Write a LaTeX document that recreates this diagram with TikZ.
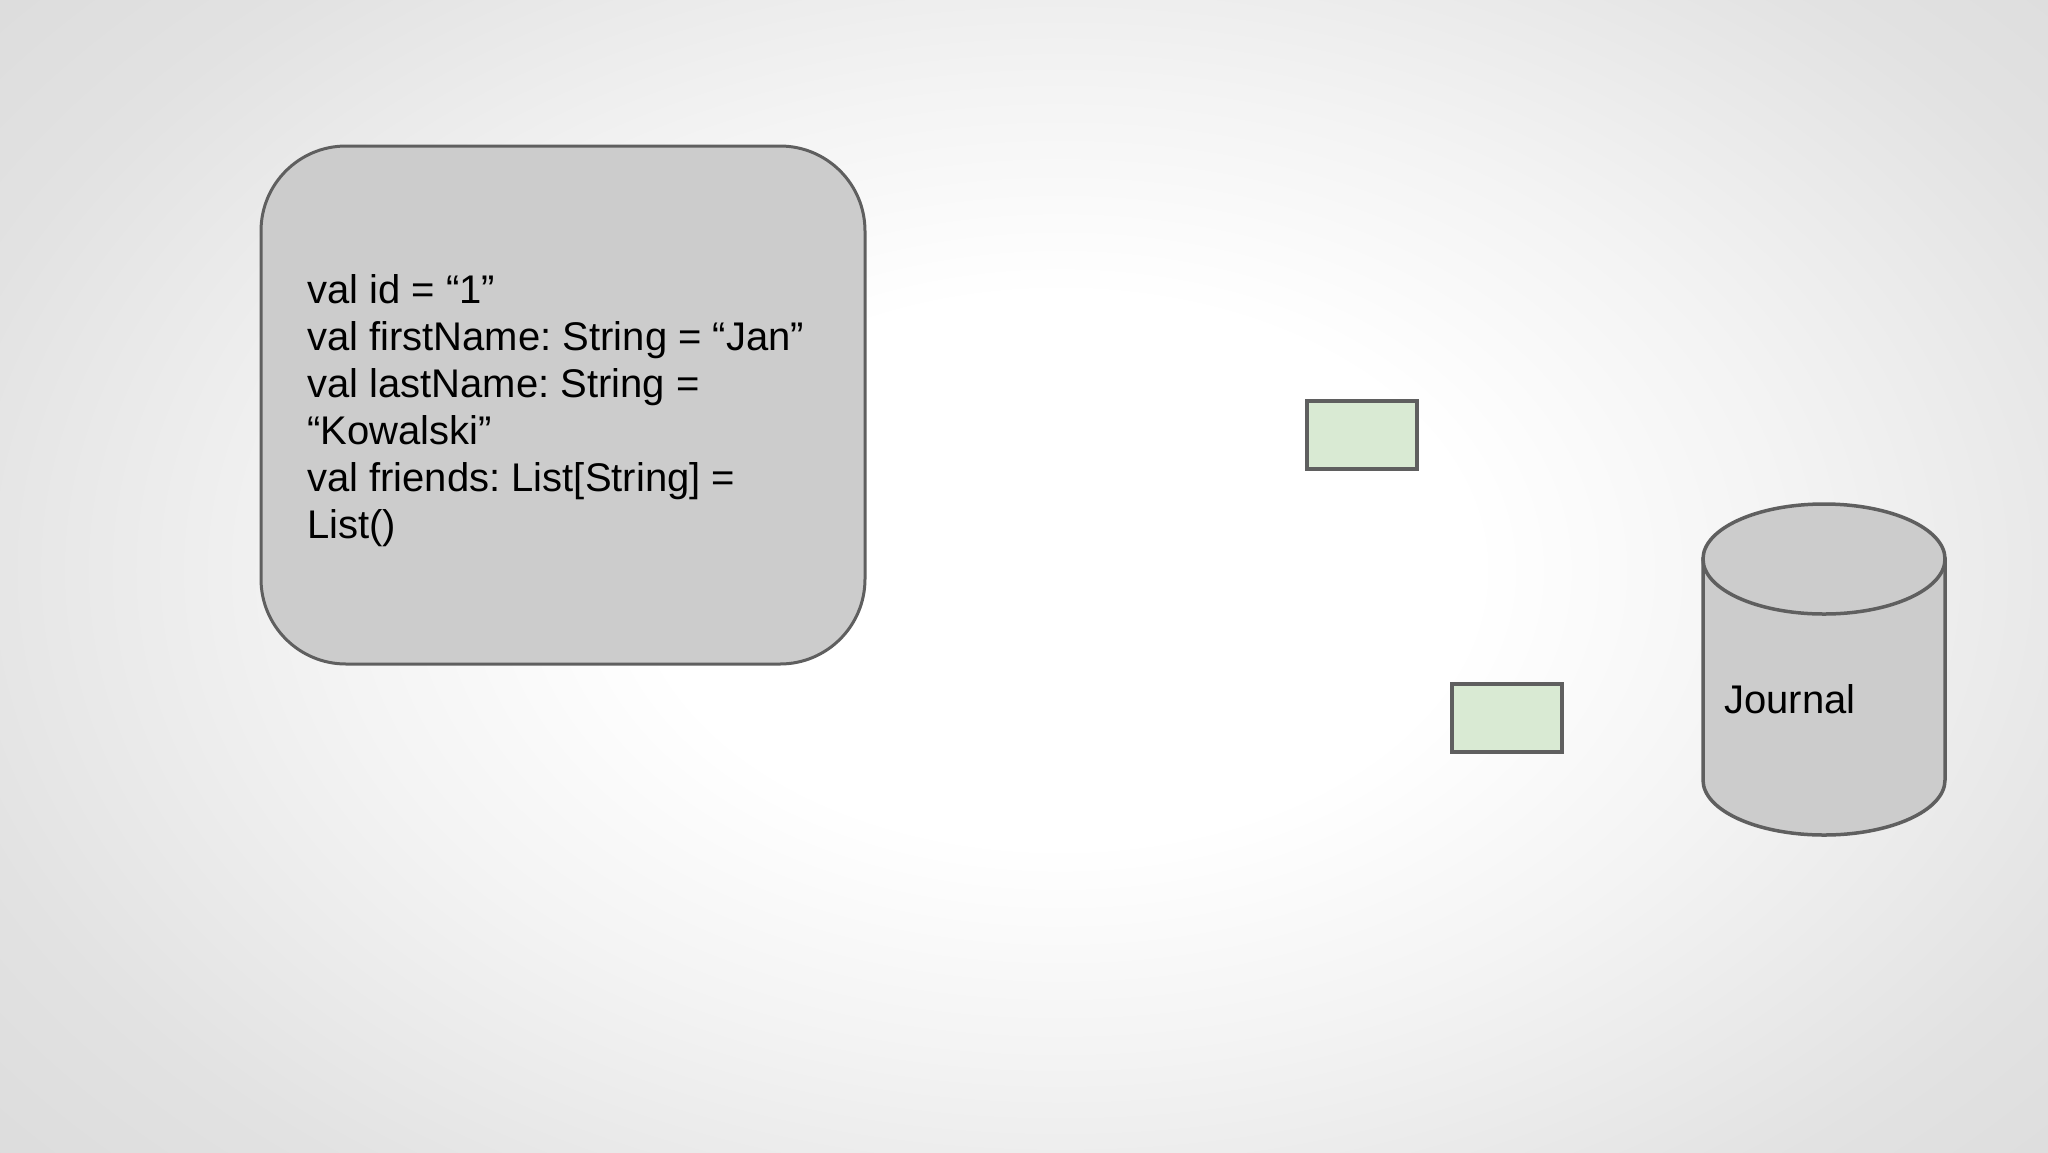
\documentclass[tikz,border=0pt]{standalone}
\usepackage{fontspec}
\setmainfont{Liberation Sans}
\frenchspacing
\definecolor{edge}{HTML}{5F5F5F}
\definecolor{boxfill}{HTML}{CCCCCC}
\definecolor{greenfill}{HTML}{D9EAD3}
\definecolor{bgout}{HTML}{CCCCCC}
\definecolor{bgmid}{HTML}{E2E2E2}
\definecolor{bgedge}{HTML}{D8D8D8}
\pgfdeclareradialshading{bgshade}{\pgfpoint{0bp}{0bp}}{color(0bp)=(white); color(9bp)=(white); color(16bp)=(bgmid!40!white); color(25bp)=(bgmid); color(34bp)=(bgedge); color(46bp)=(bgout); color(72bp)=(bgout)}
\tikzset{
  codebox/.style={draw=edge, line width=3pt, fill=boxfill, rounded corners=85pt, minimum width=604pt, minimum height=518pt, inner sep=0pt},
  greenbox/.style={draw=edge, line width=4pt, fill=greenfill, minimum width=110pt, minimum height=68pt, inner sep=0pt},
  txt/.style={font=\fontsize{40}{47}\selectfont, align=left, text=black, inner sep=0pt},
}
\begin{document}
\begin{tikzpicture}[x=1pt,y=-1pt]
\useasboundingbox (0,0) rectangle (2048,1152);
\begin{scope}
\clip (0,0) rectangle (2048,1152);
\shade[shading=bgshade] (1060-1150,570-760) rectangle (1060+1150,570+760);
\end{scope}
% code box
\node[codebox] (code) at (563,405) {};
\node[txt, anchor=west] (codetext) at (307,411) {val id = “1”\\val firstName: String = “Jan”\\val lastName: String =\\“Kowalski”\\val friends: List[String] =\\List()};
% green boxes
\node[greenbox] (g1) at (1362,435) {};
\node[greenbox] (g2) at (1507,718) {};
% cylinder
\filldraw[draw=edge, fill=boxfill, line width=3.5pt] (1703,559) -- (1703,780) arc[start angle=180, end angle=0, x radius=121, y radius=55] -- (1945,559) -- cycle;
\filldraw[draw=edge, fill=boxfill, line width=3.5pt] (1824,559) ellipse [x radius=121, y radius=55];
\node[txt, anchor=west] (journal) at (1724,699) {Journal};
\end{tikzpicture}
\end{document}
